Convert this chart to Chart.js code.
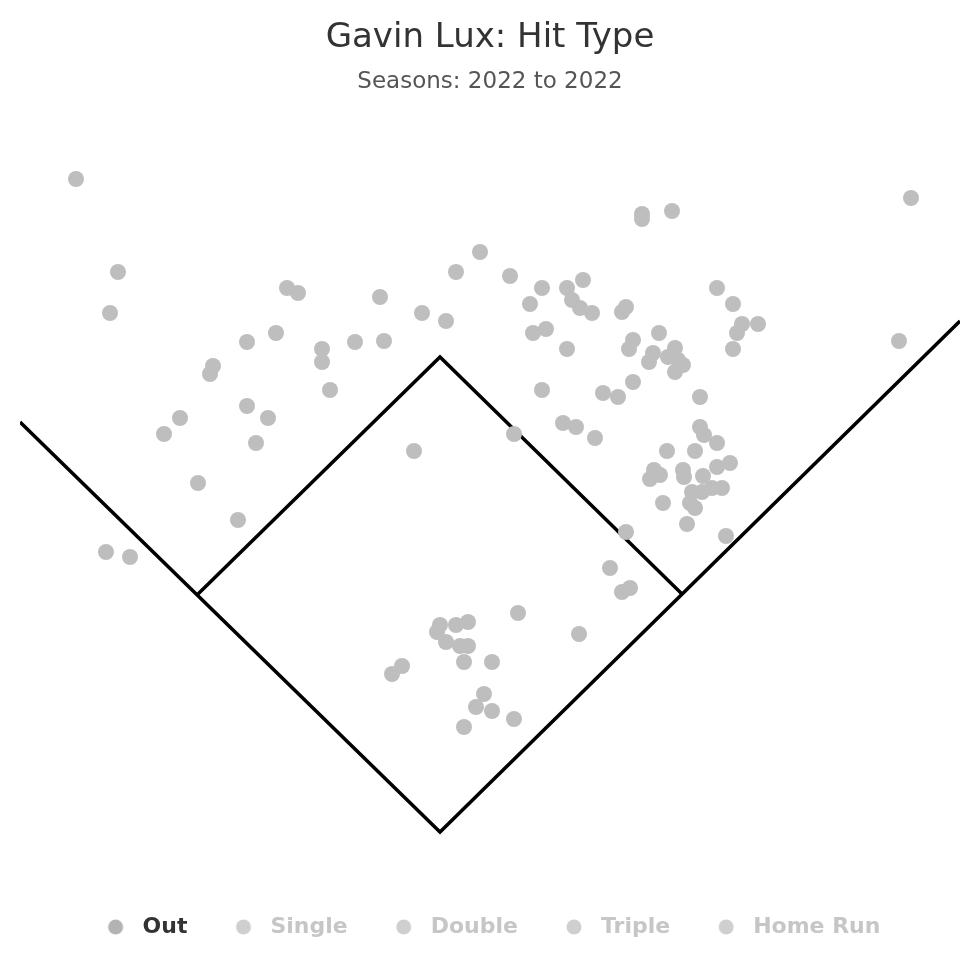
<!DOCTYPE html>
<html>
<head>
<meta charset="utf-8">
<script src="https://cdn.jsdelivr.net/npm/chart.js@4"></script>
<style>
  html, body { margin: 0; background: #fff; }
</style>
</head>
<body>
<canvas id="campo" width="980" height="980"></canvas>
<script>
// Spray chart: posiciones (unidades de plano, y hacia abajo).
var tiposGolpe = ['Out', 'Single', 'Double', 'Triple', 'Home Run'];

var outX = [76, 118, 110, 287, 298, 276, 247, 355, 322, 322, 213, 210, 330, 247, 268, 180, 164, 256, 198, 238, 106, 130, 414,
  480, 456, 510, 542, 567, 583, 530, 572, 580, 592, 380, 422, 446, 384, 533, 546, 567, 542, 563, 576, 595, 514,
  642, 642, 672, 622, 626, 717, 733, 742, 737, 758, 733, 659, 633, 629, 653, 649, 675, 668, 683, 675, 678, 633, 603, 618, 700,
  700, 704, 717, 667, 695, 717, 730, 654, 650, 660, 683, 684, 703, 692, 702, 712, 722, 690, 695, 663, 687, 726, 626, 610, 622, 630,
  911, 899,
  518, 579, 440, 437, 446, 456, 468, 460, 468, 464, 492, 402, 392, 484, 476, 492, 514, 464];
var outY = [179, 272, 313, 288, 293, 333, 342, 342, 349, 362, 366, 374, 390, 406, 418, 418, 434, 443, 483, 520, 552, 557, 451,
  252, 272, 276, 288, 288, 280, 304, 300, 308, 313, 297, 313, 321, 341, 333, 329, 349, 390, 423, 427, 438, 434,
  214, 219, 211, 312, 307, 288, 304, 324, 333, 324, 349, 333, 340, 349, 353, 362, 348, 357, 365, 372, 360, 382, 393, 397, 397,
  427, 435, 443, 451, 451, 467, 463, 470, 479, 475, 470, 477, 476, 492, 492, 488, 488, 503, 508, 503, 524, 536, 532, 568, 592, 588,
  198, 341,
  613, 634, 625, 632, 642, 625, 622, 646, 646, 662, 662, 666, 674, 694, 707, 711, 719, 727];

// Líneas de foul (pasan por 3a y 1a) y el diamante
var foulX = [20, 440, 960];
var foulY = [422, 832, 321];
var diamanteX = [682, 440, 197];
var diamanteY = [594, 357, 595];

var colorPunto = 'rgb(190,190,190)';
var colorLeyendaPunto = ['#b3b3b3', '#cfcfcf', '#cfcfcf', '#cfcfcf', '#cfcfcf'];
var colorLeyendaTexto = ['#333333', '#c6c6c6', '#c6c6c6', '#c6c6c6', '#c6c6c6'];

function puntos(xs, ys) {
  return xs.map(function (x, i) { return { x: x, y: ys[i] }; });
}

function puntoLeyenda(color) {
  var c = document.createElement('canvas');
  c.width = 32; c.height = 18;
  var g = c.getContext('2d');
  g.fillStyle = color;
  g.beginPath();
  g.arc(16, 9, 7.5, 0, Math.PI * 2);
  g.fill();
  return c;
}

var datasets = tiposGolpe.map(function (t, i) {
  return {
    label: t,
    data: i === 0 ? puntos(outX, outY) : [],
    backgroundColor: colorPunto,
    borderWidth: 0,
    pointRadius: 8,
    pointHoverRadius: 8,
  };
});
datasets.push({
  label: 'foul',
  data: puntos(foulX, foulY),
  showLine: true,
  borderColor: '#000',
  borderWidth: 3.5,
  pointRadius: 0,
  fill: false,
});
datasets.push({
  label: 'diamante',
  data: puntos(diamanteX, diamanteY),
  showLine: true,
  borderColor: '#000',
  borderWidth: 3.5,
  pointRadius: 0,
  fill: false,
});

var chart = new Chart(document.getElementById('campo').getContext('2d'), {
  type: 'scatter',
  data: { datasets: datasets },
  options: {
    responsive: false,
    animation: false,
    events: [],
    layout: { padding: { left: 20, right: 20, top: 0, bottom: 32 } },
    scales: {
      x: { display: false, min: 20, max: 960 },
      y: { display: false, reverse: true, min: 123, max: 875 },
    },
    plugins: {
      title: {
        display: true,
        text: 'Gavin Lux: Hit Type',
        color: '#333',
        font: { family: 'DejaVu Sans', size: 34, weight: 'normal' },
        padding: { top: 18, bottom: 7 },
      },
      subtitle: {
        display: true,
        text: 'Seasons: 2022 to 2022',
        color: '#555',
        font: { family: 'DejaVu Sans', size: 23, weight: 'normal' },
        padding: { top: 2, bottom: 28 },
      },
      tooltip: { enabled: false },
      legend: {
        position: 'bottom',
        labels: {
          usePointStyle: true,
          pointStyleWidth: 32,
          padding: 40,
          font: { family: 'DejaVu Sans', size: 22, weight: 'bold' },
          generateLabels: function () {
            return tiposGolpe.map(function (t, i) {
              return {
                text: t,
                datasetIndex: i,
                pointStyle: puntoLeyenda(colorLeyendaPunto[i]),
                fillStyle: colorLeyendaPunto[i],
                strokeStyle: 'transparent',
                lineWidth: 0,
                fontColor: colorLeyendaTexto[i],
                hidden: false,
              };
            });
          },
        },
      },
    },
  },
});

// la escala y sigue al área del gráfico para que el diamante no se deforme
var area = chart.chartArea;
chart.options.scales.y.min = area.top;
chart.options.scales.y.max = area.bottom;
chart.update('none');
</script>
</body>
</html>
